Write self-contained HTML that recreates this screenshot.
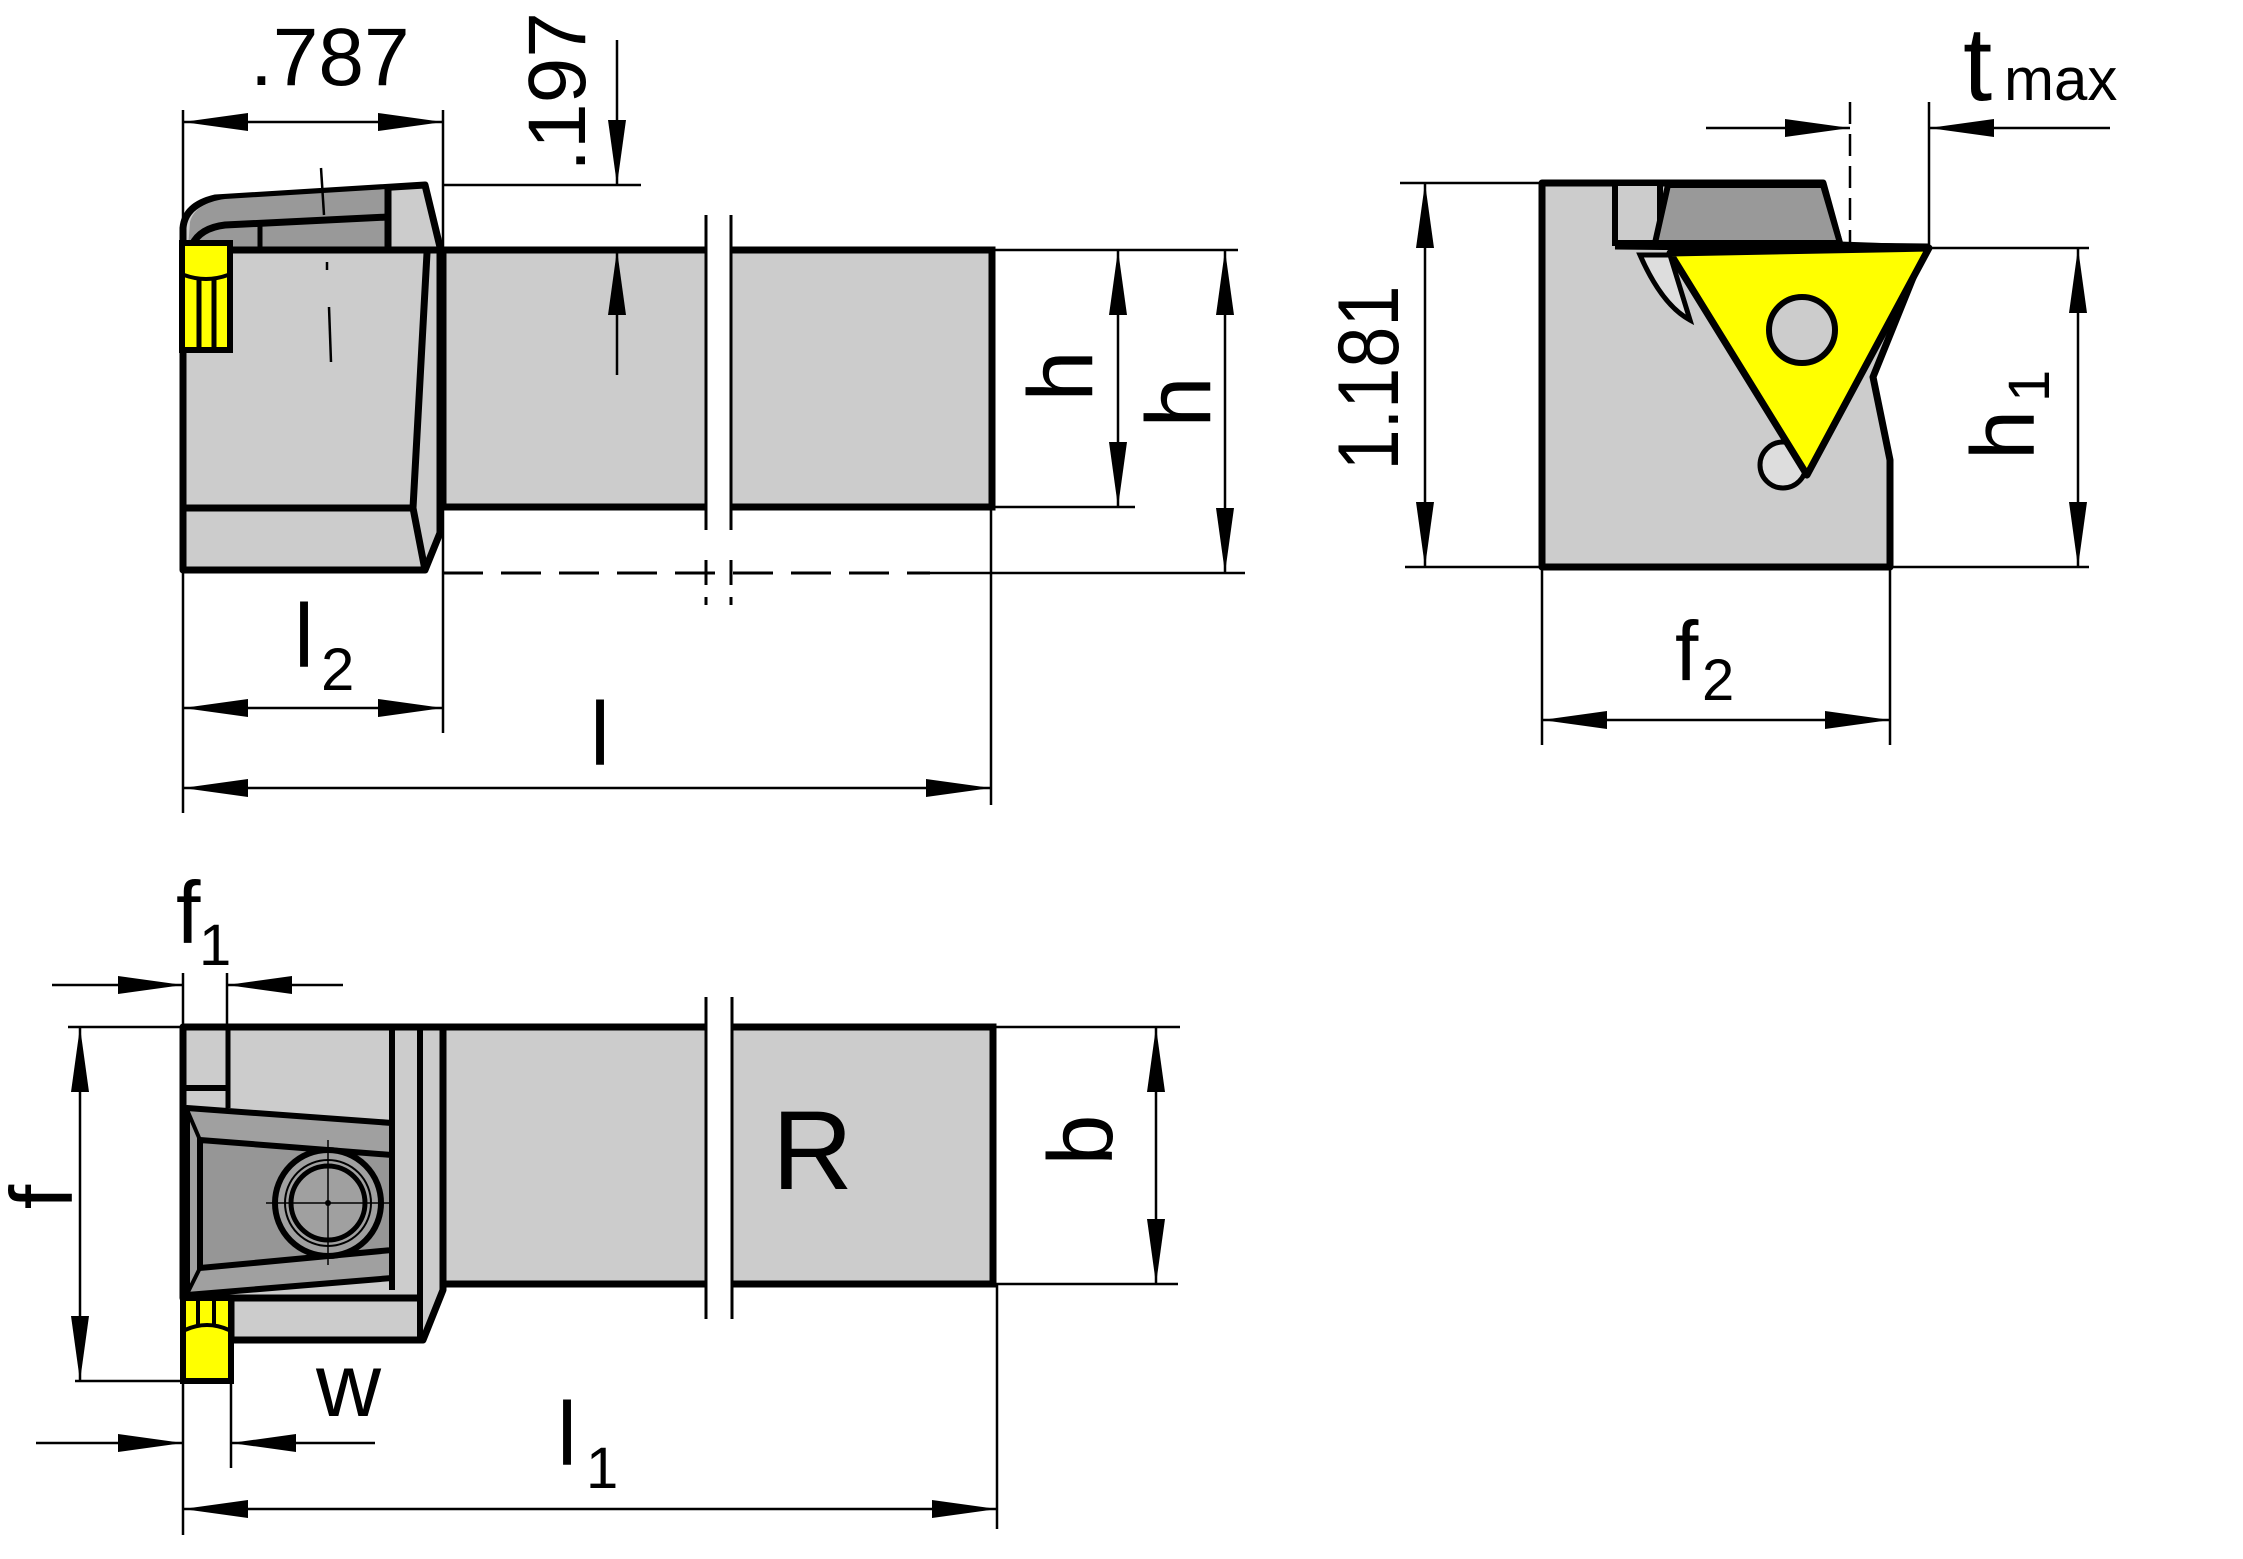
<!DOCTYPE html>
<html><head><meta charset="utf-8"><style>
html,body{margin:0;padding:0;background:#fff;}
svg{display:block;}
text{font-family:"Liberation Sans",Arial,sans-serif;fill:#000;}
</style></head><body>
<svg width="2243" height="1559" viewBox="0 0 2243 1559" xmlns="http://www.w3.org/2000/svg">
<defs>
<marker id="ar" viewBox="0 0 65 18" refX="65" refY="9" markerWidth="65" markerHeight="18" markerUnits="userSpaceOnUse" orient="auto-start-reverse"><path d="M0,0 L65,9 L0,18 z" fill="#000"/></marker>
</defs>
<rect width="2243" height="1559" fill="#fff"/>

<!-- ===== TOP VIEW ===== -->
<!-- shank -->
<rect x="443" y="250" width="549" height="257" fill="#ccc" stroke="#000" stroke-width="7"/>
<!-- head -->
<path d="M183,570 L183,228 Q185,205 215,198 L425,185 L440,247 L440,533 L425,570 Z" fill="#ccc" stroke="#000" stroke-width="7" stroke-linejoin="round"/>
<path d="M188,248 L190,222 Q195,203 225,199 L388,189 L388,248 Z" fill="#999"/>
<path d="M192,245 Q200,228 225,225 L388,217" fill="none" stroke="#000" stroke-width="7"/>
<line x1="388" y1="188" x2="388" y2="250" stroke="#000" stroke-width="7"/>
<line x1="260" y1="226" x2="260" y2="250" stroke="#000" stroke-width="5"/>
<line x1="183" y1="250" x2="443" y2="250" stroke="#000" stroke-width="7"/>
<path d="M427,253 L413,508 L425,570" fill="none" stroke="#000" stroke-width="7"/>
<line x1="183" y1="508" x2="413" y2="508" stroke="#000" stroke-width="7"/>
<!-- centerline -->
<line x1="321" y1="168" x2="324" y2="215" stroke="#000" stroke-width="2.5"/>
<line x1="327" y1="262" x2="327" y2="270" stroke="#000" stroke-width="2.5"/>
<line x1="329" y1="307" x2="331" y2="362" stroke="#000" stroke-width="2.5"/>
<!-- yellow screw top -->
<rect x="182" y="243" width="48" height="107" fill="#ff0" stroke="#000" stroke-width="6"/>
<path d="M184,275 Q206,283 228,275" fill="none" stroke="#000" stroke-width="4"/>
<line x1="199" y1="280" x2="199" y2="348" stroke="#000" stroke-width="5"/>
<line x1="214" y1="280" x2="214" y2="348" stroke="#000" stroke-width="5"/>
<!-- break -->
<rect x="707" y="240" width="23" height="275" fill="#fff"/>
<line x1="706" y1="215" x2="706" y2="530" stroke="#000" stroke-width="3"/>
<line x1="731" y1="215" x2="731" y2="530" stroke="#000" stroke-width="3"/>
<line x1="706" y1="560" x2="706" y2="605" stroke="#000" stroke-width="3" stroke-dasharray="25,12"/>
<line x1="731" y1="560" x2="731" y2="605" stroke="#000" stroke-width="3" stroke-dasharray="25,12"/>
<!-- dashed bottom -->
<line x1="443" y1="573" x2="930" y2="573" stroke="#000" stroke-width="3" stroke-dasharray="40,18"/>
<line x1="930" y1="573" x2="1245" y2="573" stroke="#000" stroke-width="2.5"/>

<!-- dims top view -->
<g stroke="#000" stroke-width="2.5" fill="none">
<line x1="183" y1="110" x2="183" y2="813"/>
<line x1="443" y1="110" x2="443" y2="733"/>
<line x1="991" y1="507" x2="991" y2="805"/>
<line x1="183" y1="122" x2="443" y2="122" marker-start="url(#ar)" marker-end="url(#ar)"/>
<line x1="617" y1="40" x2="617" y2="185" marker-end="url(#ar)"/>
<line x1="617" y1="375" x2="617" y2="250" marker-end="url(#ar)"/>
<line x1="443" y1="185" x2="641" y2="185"/>
<line x1="992" y1="250" x2="1238" y2="250"/>
<line x1="992" y1="507" x2="1135" y2="507"/>
<line x1="1118" y1="250" x2="1118" y2="507" marker-start="url(#ar)" marker-end="url(#ar)"/>
<line x1="1225" y1="250" x2="1225" y2="573" marker-start="url(#ar)" marker-end="url(#ar)"/>
<line x1="183" y1="708" x2="443" y2="708" marker-start="url(#ar)" marker-end="url(#ar)"/>
<line x1="183" y1="788" x2="991" y2="788" marker-start="url(#ar)" marker-end="url(#ar)"/>
</g>
<text x="250" y="85" font-size="82">.787</text>
<text transform="translate(585,92) rotate(-90)" font-size="82" text-anchor="middle">.197</text>
<text transform="translate(1092,376) rotate(-90)" font-size="92" text-anchor="middle">h</text>
<text transform="translate(1210,402) rotate(-90)" font-size="92" text-anchor="middle">h</text>
<text x="294" y="667" font-size="90">l</text>
<text x="321" y="690" font-size="60">2</text>
<text x="590" y="765" font-size="90">l</text>

<!-- ===== RIGHT VIEW ===== -->
<polygon points="1542,183 1823,183 1840,245 1925,248 1873,377 1890,460 1890,567 1542,567" fill="#ccc" stroke="#000" stroke-width="7" stroke-linejoin="round"/>
<rect x="1615" y="183" width="45" height="60" fill="#ccc" stroke="#000" stroke-width="6"/>
<polygon points="1668,185 1823,185 1840,243 1655,243" fill="#999" stroke="#000" stroke-width="6" stroke-linejoin="round"/>
<path d="M1640,255 Q1662,305 1690,320 L1670,255 Z" fill="#ddd" stroke="#000" stroke-width="5"/>
<circle cx="1783" cy="465" r="23" fill="#ddd" stroke="#000" stroke-width="5"/>
<line x1="1615" y1="245" x2="1929" y2="248" stroke="#000" stroke-width="9"/>
<polygon points="1670,253 1929,248 1807,475" fill="#ff0" stroke="#000" stroke-width="7" stroke-linejoin="round"/>
<circle cx="1802" cy="330" r="33" fill="#ccc" stroke="#000" stroke-width="6"/>
<g stroke="#000" stroke-width="2.5" fill="none">
<line x1="1400" y1="183" x2="1542" y2="183"/>
<line x1="1405" y1="567" x2="1542" y2="567"/>
<line x1="1425" y1="183" x2="1425" y2="567" marker-start="url(#ar)" marker-end="url(#ar)"/>
<line x1="1929" y1="248" x2="2089" y2="248"/>
<line x1="1890" y1="567" x2="2089" y2="567"/>
<line x1="2078" y1="248" x2="2078" y2="567" marker-start="url(#ar)" marker-end="url(#ar)"/>
<line x1="1542" y1="567" x2="1542" y2="745"/>
<line x1="1890" y1="567" x2="1890" y2="745"/>
<line x1="1542" y1="720" x2="1890" y2="720" marker-start="url(#ar)" marker-end="url(#ar)"/>
<line x1="1850" y1="102" x2="1850" y2="245" stroke-dasharray="22,10"/>
<line x1="1929" y1="102" x2="1929" y2="248"/>
<line x1="1706" y1="128" x2="1850" y2="128" marker-end="url(#ar)"/>
<line x1="2110" y1="128" x2="1929" y2="128" marker-end="url(#ar)"/>
</g>
<text transform="translate(1398,378) rotate(-90)" font-size="86" text-anchor="middle" textLength="185" lengthAdjust="spacingAndGlyphs">1.181</text>
<text transform="translate(2034,460) rotate(-90)" font-size="90">h<tspan font-size="58" dy="15" dx="8">1</tspan></text>
<text x="1963" y="100" font-size="105">t</text>
<text x="2004" y="100" font-size="60">max</text>
<text x="1675" y="680" font-size="84">f</text>
<text x="1702" y="700" font-size="58">2</text>

<!-- ===== BOTTOM VIEW ===== -->
<rect x="443" y="1027" width="550" height="257" fill="#ccc" stroke="#000" stroke-width="7"/>
<path d="M183,1027 L443,1027 L443,1290 L423,1340 L231,1340 L231,1298 L183,1298 Z" fill="#ccc" stroke="#000" stroke-width="7" stroke-linejoin="round"/>
<line x1="392" y1="1027" x2="392" y2="1290" stroke="#000" stroke-width="6"/>
<line x1="420" y1="1027" x2="420" y2="1337" stroke="#000" stroke-width="6"/>
<line x1="231" y1="1298" x2="420" y2="1298" stroke="#000" stroke-width="7"/>
<line x1="183" y1="1088" x2="228" y2="1088" stroke="#000" stroke-width="6"/>
<line x1="228" y1="1027" x2="228" y2="1108" stroke="#000" stroke-width="5"/>
<polygon points="187,1108 392,1123 392,1278 187,1295" fill="#a0a0a0" stroke="#000" stroke-width="6" stroke-linejoin="round"/>
<polygon points="200,1140 392,1155 392,1250 200,1268" fill="#969696" stroke="#000" stroke-width="6"/>
<line x1="188" y1="1112" x2="200" y2="1140" stroke="#000" stroke-width="4"/>
<line x1="188" y1="1292" x2="200" y2="1268" stroke="#000" stroke-width="4"/>
<circle cx="328" cy="1203" r="53" fill="#a0a0a0" stroke="#000" stroke-width="6"/>
<circle cx="328" cy="1203" r="43" fill="none" stroke="#000" stroke-width="2"/>
<circle cx="328" cy="1203" r="37" fill="#a0a0a0" stroke="#000" stroke-width="5"/>
<line x1="266" y1="1203" x2="390" y2="1203" stroke="#000" stroke-width="1.5"/>
<line x1="328" y1="1140" x2="328" y2="1265" stroke="#000" stroke-width="1.5"/>
<circle cx="328" cy="1203" r="3" fill="#000"/>
<!-- yellow screw bottom -->
<path d="M183,1298 L231,1298 L231,1381 L183,1381 Z" fill="#ff0" stroke="#000" stroke-width="6"/>
<path d="M185,1330 Q207,1320 229,1330" fill="none" stroke="#000" stroke-width="4"/>
<line x1="198" y1="1300" x2="198" y2="1326" stroke="#000" stroke-width="4"/>
<line x1="214" y1="1300" x2="214" y2="1326" stroke="#000" stroke-width="4"/>
<!-- break -->
<rect x="707" y="1015" width="24" height="280" fill="#fff"/>
<line x1="706" y1="997" x2="706" y2="1319" stroke="#000" stroke-width="3"/>
<line x1="732" y1="997" x2="732" y2="1319" stroke="#000" stroke-width="3"/>
<g stroke="#000" stroke-width="2.5" fill="none">
<line x1="52" y1="985" x2="183" y2="985" marker-end="url(#ar)"/>
<line x1="343" y1="985" x2="227" y2="985" marker-end="url(#ar)"/>
<line x1="183" y1="973" x2="183" y2="1027"/>
<line x1="227" y1="973" x2="227" y2="1030"/>
<line x1="68" y1="1027" x2="183" y2="1027"/>
<line x1="75" y1="1381" x2="183" y2="1381"/>
<line x1="80" y1="1027" x2="80" y2="1381" marker-start="url(#ar)" marker-end="url(#ar)"/>
<line x1="993" y1="1027" x2="1180" y2="1027"/>
<line x1="993" y1="1284" x2="1178" y2="1284"/>
<line x1="1156" y1="1027" x2="1156" y2="1284" marker-start="url(#ar)" marker-end="url(#ar)"/>
<line x1="36" y1="1443" x2="183" y2="1443" marker-end="url(#ar)"/>
<line x1="375" y1="1443" x2="231" y2="1443" marker-end="url(#ar)"/>
<line x1="183" y1="1381" x2="183" y2="1535"/>
<line x1="231" y1="1381" x2="231" y2="1468"/>
<line x1="997" y1="1284" x2="997" y2="1529"/>
<line x1="183" y1="1509" x2="997" y2="1509" marker-start="url(#ar)" marker-end="url(#ar)"/>
</g>
<text x="176" y="943" font-size="88">f</text>
<text x="199" y="965" font-size="58">1</text>
<text transform="translate(72,1197) rotate(-90)" font-size="88" text-anchor="middle">f</text>
<text x="772" y="1189" font-size="112">R</text>
<text transform="translate(1112,1140) rotate(-90)" font-size="92" text-anchor="middle">b</text>
<text x="316" y="1416" font-size="90">w</text>
<text x="557" y="1465" font-size="90">l</text>
<text x="586" y="1488" font-size="58">1</text>
</svg>
</body></html>
